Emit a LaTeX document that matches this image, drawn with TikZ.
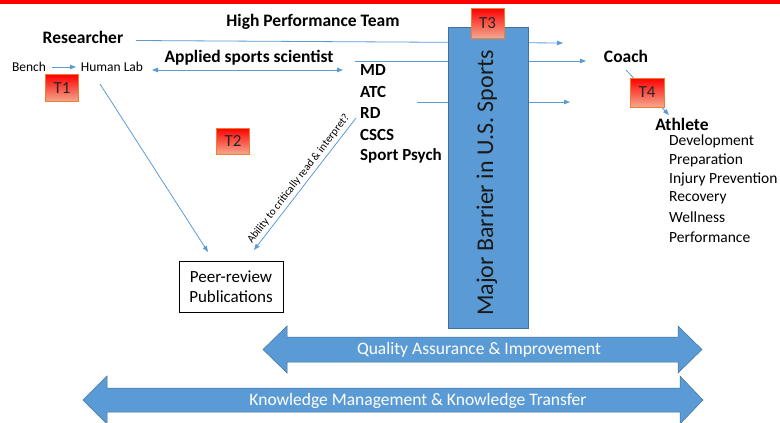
\documentclass[tikz,border=0pt]{standalone}
\usepackage{fontspec}
\setmainfont{Carlito}
\usetikzlibrary{arrows.meta,calc}
\definecolor{bblue}{HTML}{5B9BD5}
\definecolor{bdark}{HTML}{41719C}
\definecolor{tred}{HTML}{FF0000}
\definecolor{tlight}{HTML}{F4A88E}
\definecolor{torange}{HTML}{ED7D31}
\tikzset{
  conn/.style={draw=bblue, line width=0.8pt, -{Triangle[length=6pt,width=4.5pt]}},
  dconn/.style={draw=bblue, line width=0.8pt, {Triangle[length=6pt,width=4.5pt]}-{Triangle[length=6pt,width=4.5pt]}},
  tbox/.style={draw=torange, line width=0.6pt, top color=tred, bottom color=tlight, minimum width=33pt, minimum height=27pt, inner sep=0pt, font=\fontsize{17}{20}\selectfont, text=black!85},
  bigtxt/.style={font=\fontsize{17.5}{21}\selectfont\bfseries, inner sep=0pt},
  roletxt/.style={font=\fontsize{17}{20}\selectfont\bfseries, inner sep=0pt, anchor=west},
  smalltxt/.style={font=\fontsize{13.5}{16}\selectfont, inner sep=0pt},
  listtxt/.style={font=\fontsize{15.5}{18}\selectfont, inner sep=0pt, anchor=west},
  bandtxt/.style={font=\fontsize{17.5}{21}\selectfont, text=white, inner sep=0pt},
  bigarrow/.style={fill=bblue, draw=bdark, line width=0.5pt}
}
\begin{document}
\begin{tikzpicture}[x=1pt,y=-1pt]
\useasboundingbox (0,0) rectangle (780,423);
\fill[tred] (0,0) rectangle (780,4);

% texts
\node[bigtxt] (hpt) at (313,22) {High Performance Team};
\node[bigtxt] (res) at (83,37) {Researcher};
\node[smalltxt] (bench) at (29,67) {Bench};
\node[smalltxt] (hlab) at (112,67) {Human Lab};
\node[bigtxt] (app) at (249,58) {Applied sports scientist};
\node[roletxt] (md) at (360,70) {MD};
\node[roletxt] (atc) at (360,91.5) {ATC};
\node[roletxt] (rd) at (360,113) {RD};
\node[roletxt] (cscs) at (360,134.5) {CSCS};
\node[roletxt] (psych) at (360,156) {Sport Psych};
\node[bigtxt] (coach) at (626,56) {Coach};
\node[bigtxt] (ath) at (682,124) {Athlete};
\node[listtxt] (l1) at (669,141) {Development};
\node[listtxt] (l2) at (669,160) {Preparation};
\node[listtxt] (l3) at (669,179) {Injury Prevention};
\node[listtxt] (l4) at (669,198) {Recovery};
\node[listtxt] (l5) at (669,217.5) {Wellness};
\node[listtxt] (l6) at (669,237) {Performance};

\node[draw=black, line width=0.8pt, minimum width=104pt, minimum height=51pt, inner sep=0pt, align=center, font=\fontsize{17}{20}\selectfont] (peer) at (231,286.5) {Peer-review\\Publications};

% coordinates
\coordinate (bE) at (52,67);
\coordinate (hW) at (76,67);
\coordinate (a1) at (152,70);
\coordinate (a2) at (343,70);
\coordinate (resE) at (136,40.5);
\coordinate (resT) at (563,43);
\coordinate (mdS) at (355,61);
\coordinate (mdT) at (586,61);
\coordinate (rdS) at (417,102);
\coordinate (rdT) at (570,102);
\coordinate (coS) at (626,70);
\coordinate (atT) at (669,115);
\coordinate (hlS) at (100,84);
\coordinate (plT) at (208,252);
\coordinate (rdL) at (356,118);
\coordinate (prT) at (254,250);

% connectors
\draw[conn] (bE) -- (hW);
\draw[dconn] (a1) -- (a2);
\draw[conn] (resE) -- (resT);
\draw[conn] (mdS) -- (mdT);
\draw[conn] (rdS) -- (rdT);
\draw[conn] (hlS) -- (plT);
\draw[conn] (rdL) -- node[sloped, above=3pt, font=\fontsize{11}{13}\selectfont, inner sep=0pt] (abil) {Ability to critically read \& interpret?} (prT);
\draw[conn] (coS) -- (atT);

% barrier
\node[fill=bblue, draw=bdark, line width=0.6pt, minimum width=80pt, minimum height=301pt, inner sep=0pt] (bar) at (488,177.5) {};
\node[rotate=90, font=\fontsize{24}{28}\selectfont, inner sep=0pt, text=black!90] (bartxt) at (487,183) {Major Barrier in U.S. Sports};

% T boxes
\node[tbox] (t1) at (62,88) {T1};
\node[tbox, minimum height=26pt] (t2) at (233,141) {T2};
\node[tbox, minimum height=30pt] (t3) at (487.5,23) {T3};
\node[tbox, minimum width=34pt, minimum height=29pt] (t4) at (647,92.5) {T4};

% big arrows
\draw[bigarrow] (263,349.5) -- (287,326) -- (287,337) -- (678,337) -- (678,326) -- (702,349.5) -- (678,373) -- (678,362) -- (287,362) -- (287,373) -- cycle;
\node[bandtxt] (qa) at (479,350) {Quality Assurance \& Improvement};
\draw[bigarrow] (83,400) -- (107,376) -- (107,388) -- (680,388) -- (680,376) -- (703,400) -- (680,424) -- (680,412) -- (107,412) -- (107,424) -- cycle;
\node[bandtxt] (km) at (418,400.5) {Knowledge Management \& Knowledge Transfer};
\end{tikzpicture}
\end{document}
